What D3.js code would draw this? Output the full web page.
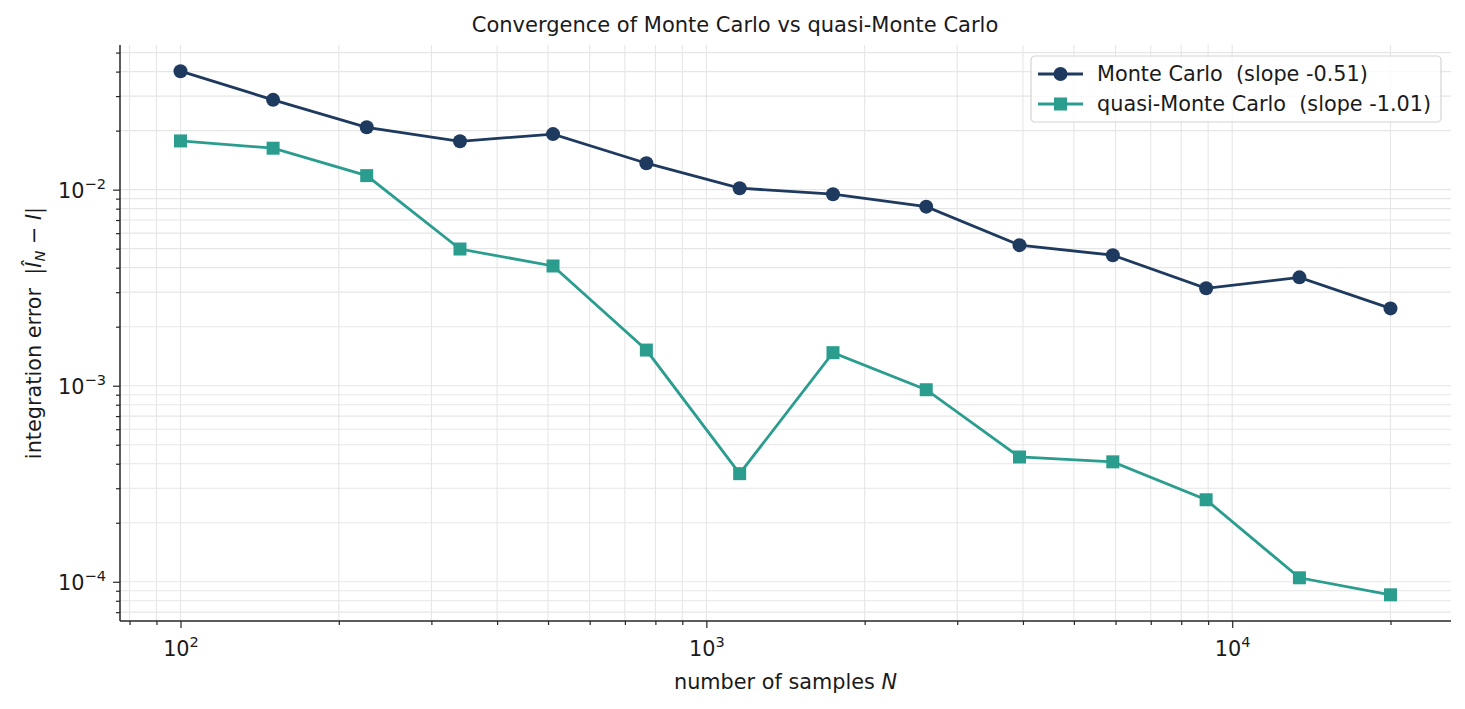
<!DOCTYPE html>
<html>
<head>
<meta charset="utf-8">
<script src="https://cdn.jsdelivr.net/npm/d3@7"></script>
<style>
  body { margin: 0; background: white; }
  text { font-family: "DejaVu Sans", sans-serif; fill: #1a1a1a; white-space: pre; }
</style>
</head>
<body>
<div id="container"></div>
<script>
// data
let samples = [100, 150, 226, 340, 511, 769, 1157, 1741, 2619, 3940, 5929, 8921, 13422, 20000];
let mcErr = [0.0402, 0.0287, 0.0208, 0.01765, 0.0192, 0.01364, 0.01017, 0.00948, 0.00819, 0.00521, 0.00463, 0.00314, 0.00357, 0.00248];
let qmcErr = [0.01772, 0.01627, 0.01179, 0.00498, 0.00408, 0.00152, 0.000356, 0.001474, 0.000954, 0.000433, 0.000409, 0.000262, 0.0001048, 0.0000858];
let seriesNames = ["Monte Carlo  (slope -0.51)", "quasi-Monte Carlo  (slope -1.01)"];
let seriesColors = ["#1f3a5f", "#2a9d8f"];

let w = 1465;
let h = 709;
let padLeft = 120, padRight = 1451, padTop = 45, padBottom = 621;
let fontSize = 20.8;

let viz = d3.select('#container')
    .append('svg')
    .attr('width', w)
    .attr('height', h);

// log domains with 5% margin like matplotlib
function logPad(vals) {
    let lo = Math.log10(d3.min(vals)), hi = Math.log10(d3.max(vals));
    let m = (hi - lo) * 0.05;
    return [Math.pow(10, lo - m), Math.pow(10, hi + m)];
}

let xScale = d3.scaleLog().domain(logPad(samples)).range([padLeft, padRight]);
let yScale = d3.scaleLog().domain(logPad(mcErr.concat(qmcErr))).range([padBottom, padTop]);

let isMajor = v => Math.abs(Math.log10(v) - Math.round(Math.log10(v))) < 1e-9;
let xTicks = xScale.ticks(), yTicks = yScale.ticks();
let xMajor = xTicks.filter(isMajor), xMinor = xTicks.filter(v => !isMajor(v));
let yMajor = yTicks.filter(isMajor), yMinor = yTicks.filter(v => !isMajor(v));

// GRID
let grid = viz.append('g').classed('grid', true);
grid.selectAll('.vgrid').data(xTicks).enter().append('line')
    .attr('x1', d => xScale(d)).attr('x2', d => xScale(d))
    .attr('y1', padTop).attr('y2', padBottom)
    .attr('stroke', '#e6e6e6').attr('stroke-width', 1.1);
grid.selectAll('.hgrid').data(yTicks).enter().append('line')
    .attr('x1', padLeft).attr('x2', padRight)
    .attr('y1', d => yScale(d)).attr('y2', d => yScale(d))
    .attr('stroke', '#e6e6e6').attr('stroke-width', 1.1);

// AXES
function styleAxis(g) {
    g.select('.domain').remove();
    g.selectAll('line').attr('stroke', '#262626').attr('stroke-width', 1.2);
}

let xAxisGroup = viz.append('g').attr('transform', `translate(0,${padBottom})`);
xAxisGroup.append('g').call(d3.axisBottom(xScale).tickValues(xMinor).tickSize(4).tickFormat('')).call(styleAxis);
let xMajorG = xAxisGroup.append('g').call(d3.axisBottom(xScale).tickValues(xMajor).tickSize(7).tickFormat('')).call(styleAxis);
xMajorG.selectAll('.tick').append('text')
    .attr('y', 35).attr('text-anchor', 'middle')
    .style('font-size', fontSize + 'px')
    .each(function (d) {
        let t = d3.select(this);
        t.append('tspan').text('10');
        t.append('tspan').attr('dy', -9).style('font-size', (fontSize * 0.7) + 'px').text(Math.round(Math.log10(d)));
    });

let yAxisGroup = viz.append('g').attr('transform', `translate(${padLeft},0)`);
yAxisGroup.append('g').call(d3.axisLeft(yScale).tickValues(yMinor).tickSize(4).tickFormat('')).call(styleAxis);
let yMajorG = yAxisGroup.append('g').call(d3.axisLeft(yScale).tickValues(yMajor).tickSize(7).tickFormat('')).call(styleAxis);
yMajorG.selectAll('.tick').append('text')
    .attr('x', -14).attr('y', 8).attr('text-anchor', 'end')
    .style('font-size', fontSize + 'px')
    .each(function (d) {
        let t = d3.select(this);
        t.append('tspan').text('10');
        t.append('tspan').attr('dy', -9).style('font-size', (fontSize * 0.7) + 'px')
            .text('\u2212' + Math.abs(Math.round(Math.log10(d))));
    });

// spines (left, bottom)
viz.append('line').attr('x1', padLeft).attr('x2', padLeft).attr('y1', padTop).attr('y2', padBottom)
    .attr('stroke', '#262626').attr('stroke-width', 1.5);
viz.append('line').attr('x1', padLeft).attr('x2', padRight).attr('y1', padBottom).attr('y2', padBottom)
    .attr('stroke', '#262626').attr('stroke-width', 1.5);

// SERIES
let allSeries = [mcErr, qmcErr];
let line = d3.line().x((d, i) => xScale(samples[i])).y(d => yScale(d));
let symbols = [d3.symbolCircle, d3.symbolSquare];
let symbolSizes = [Math.PI * 7 * 7, 13 * 13];

allSeries.forEach((vals, s) => {
    let g = viz.append('g').classed('series', true);
    g.append('path').datum(vals)
        .attr('d', line)
        .attr('fill', 'none')
        .attr('stroke', seriesColors[s])
        .attr('stroke-width', 2.8);
    g.selectAll('.pt').data(vals).enter().append('path')
        .attr('d', d3.symbol().type(symbols[s]).size(symbolSizes[s]))
        .attr('transform', (d, i) => `translate(${xScale(samples[i])},${yScale(d)})`)
        .attr('fill', seriesColors[s]);
});

// TITLE + LABELS
viz.append('text').attr('x', 735).attr('y', 32).attr('text-anchor', 'middle')
    .style('font-size', '21px')
    .text('Convergence of Monte Carlo vs quasi-Monte Carlo');

let xl = viz.append('text').attr('x', (padLeft + padRight) / 2).attr('y', 689).attr('text-anchor', 'middle')
    .style('font-size', fontSize + 'px');
xl.append('tspan').text('number of samples ');
xl.append('tspan').style('font-style', 'italic').text('N');

let yl = viz.append('text').attr('transform', `translate(41,${(padTop + padBottom) / 2}) rotate(-90)`)
    .attr('text-anchor', 'middle')
    .style('font-size', fontSize + 'px');
yl.append('tspan').text('integration error  |');
yl.append('tspan').style('font-style', 'italic').text('\u00CE');
yl.append('tspan').style('font-style', 'italic').style('font-size', (fontSize * 0.7) + 'px').attr('dy', 4).text('N');
yl.append('tspan').attr('dy', -4).text(' \u2212 ');
yl.append('tspan').style('font-style', 'italic').text('I');
yl.append('tspan').text('|');

// LEGEND
let legend = viz.append('g').attr('transform', 'translate(1031,56)');
legend.append('rect').attr('width', 410).attr('height', 66).attr('rx', 4)
    .attr('fill', 'white').attr('fill-opacity', 0.8)
    .attr('stroke', '#d4d4d4').attr('stroke-width', 1.2);
seriesNames.forEach((name, s) => {
    let yy = 18 + s * 30;
    legend.append('line').attr('x1', 7).attr('x2', 52).attr('y1', yy).attr('y2', yy)
        .attr('stroke', seriesColors[s]).attr('stroke-width', 2.8);
    legend.append('path')
        .attr('d', d3.symbol().type(symbols[s]).size(symbolSizes[s]))
        .attr('transform', `translate(29.5,${yy})`)
        .attr('fill', seriesColors[s]);
    legend.append('text').attr('x', 66).attr('y', yy + 7)
        .style('font-size', fontSize + 'px')
        .text(name);
});
</script>
</body>
</html>
